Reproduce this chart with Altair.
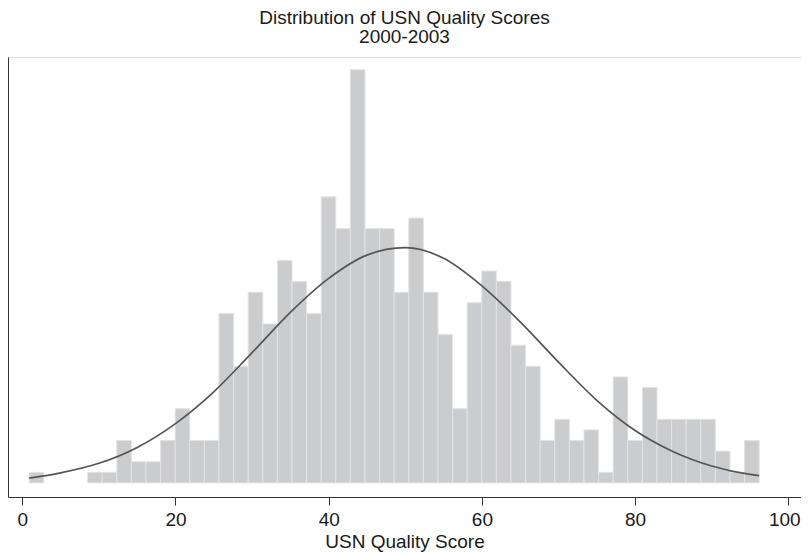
import altair as alt
import pandas as pd

title_lines = ["Distribution of USN Quality Scores", "2000-2003"]
x_title = "USN Quality Score"
x_ticks = [0, 20, 40, 60, 80, 100]

# histogram: 50 bins starting at 0.9, width 1.906 (counts)
bin_start = 0.9
bin_width = 1.906
counts = [1, 0, 0, 0, 1, 1, 4, 2, 2, 4,
          7, 4, 4, 16, 11, 18, 15, 21, 19, 16,
          27, 24, 39, 24, 24, 18, 25, 18, 14, 7,
          17, 20, 19, 13, 11, 4, 6, 4, 5, 1,
          10, 4, 9, 6, 6, 6, 6, 3, 1, 4]

# overlaid normal curve, heights in count units
curve_x = [0.9, 5, 10, 15, 20, 25, 30, 35, 40, 45, 50, 55, 60, 65, 70, 75, 80, 85, 90, 95, 96.2]
curve_y = [0.45, 0.95, 1.85, 3.35, 5.6, 8.6, 12.3, 16.1, 19.3, 21.5, 22.2, 21.2, 18.6, 15.2, 11.4, 7.8, 4.95, 2.95, 1.6, 0.8, 0.68]

bars_df = pd.DataFrame({
    "lo": [bin_start + i * bin_width for i in range(len(counts))],
    "hi": [bin_start + (i + 1) * bin_width for i in range(len(counts))],
    "count": counts,
})
bars_df = bars_df[bars_df["count"] > 0]
curve_df = pd.DataFrame({"x": curve_x, "y": curve_y})

FONT = "Liberation Sans"
xscale = alt.Scale(domain=[-1.867, 101.66], nice=False, zero=False)
yscale = alt.Scale(domain=[-1.33, 40.2], nice=False, zero=False)

xaxis = alt.Axis(values=x_ticks, title=x_title, grid=False, format="d",
                 domainColor="#333333", tickColor="#333333", tickSize=8,
                 labelFontSize=19, titleFontSize=19, labelFont=FONT, titleFont=FONT,
                 labelColor="#1a1a1a", titleColor="#1a1a1a", titleFontWeight="normal",
                 labelPadding=5, titlePadding=3, labelFlush=False,
                 labelOffset={"condition": {"test": "datum.value === 100", "value": -4}, "value": 0})
yaxis = alt.Axis(labels=False, ticks=False, title=None, grid=False, domainColor="#333333")

bars = alt.Chart(bars_df).mark_rect(fill="#cbccce", stroke="#e3e3e5", strokeWidth=1).encode(
    x=alt.X("lo:Q", scale=xscale, axis=xaxis),
    x2="hi:Q",
    y=alt.Y("count:Q", scale=yscale, axis=yaxis),
    y2=alt.datum(0),
)

curve = alt.Chart(curve_df).mark_line(color="#555555", strokeWidth=1.7, interpolate="monotone").encode(
    x=alt.X("x:Q", scale=xscale),
    y=alt.Y("y:Q", scale=yscale),
)

chart = (bars + curve).properties(
    width=793, height=440,
    title=alt.TitleParams(text=title_lines, fontSize=19, font=FONT, fontWeight="normal",
                          anchor="middle", offset=10, color="#1a1a1a", lineHeight=19),
    autosize=alt.AutoSizeParams(type="none"),
    padding={"left": 0, "top": 49, "right": 0, "bottom": 56},
).configure_view(stroke=None).configure(background="white")

chart.save("out.html", embed_options={"renderer": "svg", "actions": False})
